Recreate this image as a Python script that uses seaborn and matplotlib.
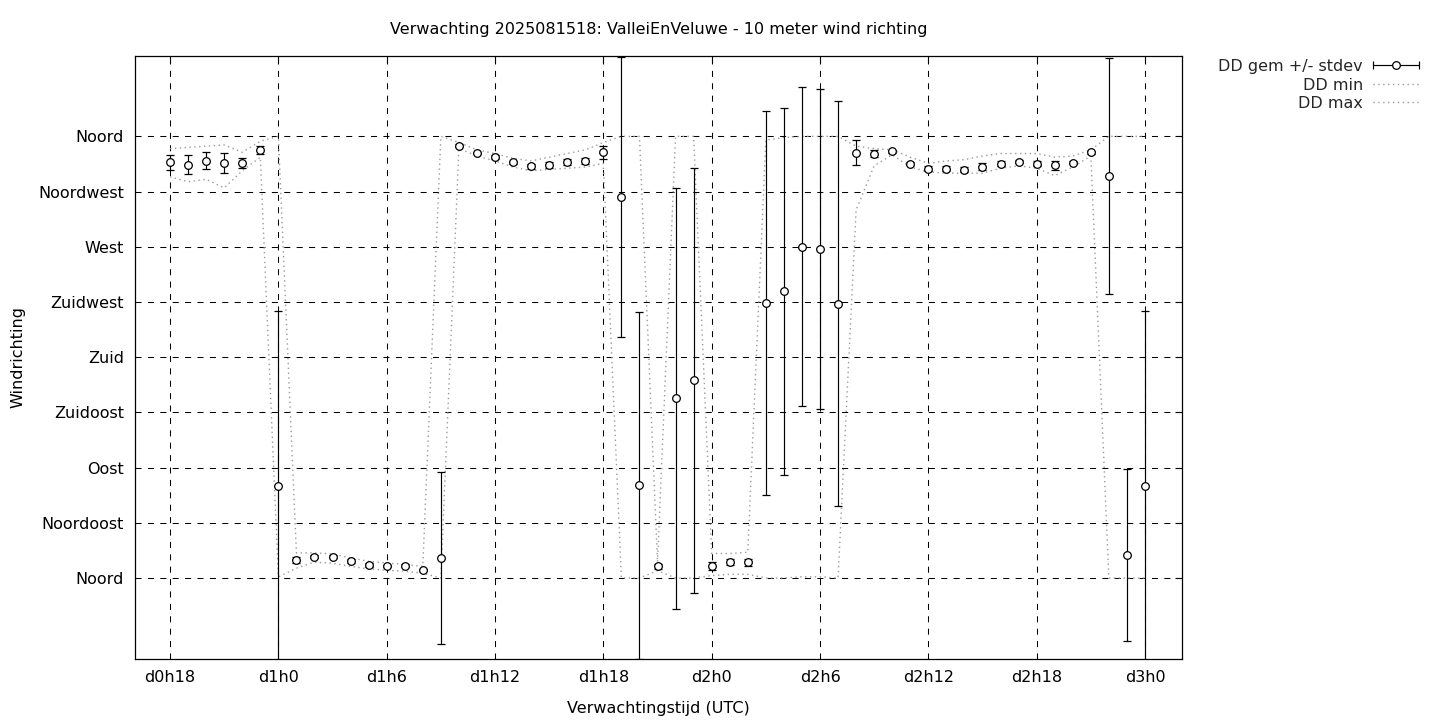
import matplotlib
matplotlib.use("Agg")
import numpy as np
import pandas as pd
import matplotlib.pyplot as plt
import seaborn as sns
from matplotlib.lines import Line2D
from matplotlib.legend_handler import HandlerLine2D, HandlerTuple

# -----------------------------------------------------------------------------
# Data
# -----------------------------------------------------------------------------

hours = [18, 19, 20, 21, 22, 23, 24, 25, 26, 27, 28, 29, 30, 31, 32, 33, 34, 35,
         36, 37, 38, 39, 40, 41, 42, 43, 44, 45, 46, 47, 48, 49, 50, 51, 52, 53,
         54, 55, 56, 57, 58, 59, 60, 61, 62, 63, 64, 65, 66, 67, 68, 69, 70, 71, 72]

dd_gem = [338.8, 337.0, 340.2, 338.3, 338.3, 349.0, 75.0, 14.7, 17.5, 17.5, 13.9,
          10.6, 9.8, 10.1, 6.5, 16.6, 352.5, 346.3, 343.1, 338.8, 335.6, 337.0,
          339.1, 340.2, 346.9, 310.5, 75.7, 9.7, 146.6, 161.1, 9.7, 12.9, 12.9,
          224.0, 233.6, 270.1, 268.1, 223.7, 346.8, 345.8, 347.7, 337.8, 333.7,
          333.7, 332.9, 335.4, 337.8, 339.4, 337.8, 336.4, 338.6, 346.9, 327.5,
          19.0, 75.0]

dd_stdev = [6.2, 7.5, 6.7, 8.3, 4.0, 3.3, 143.0, 2.5, 1.0, 1.5, 1.5, 2.0, 1.2,
            1.0, 1.0, 70.2, 1.0, 1.0, 1.5, 1.5, 2.0, 2.5, 2.5, 2.5, 5.4, 114.0,
            141.5, 2.0, 171.6, 173.5, 3.0, 2.5, 3.0, 156.6, 149.9, 130.2, 130.2,
            165.2, 10.0, 2.9, 1.0, 1.0, 2.0, 2.0, 2.0, 3.2, 2.0, 1.5, 2.0, 3.8,
            1.0, 1.5, 96.0, 70.0, 143.0]

dd_min = [327, 323, 325, 318, 332, 343, 1, 8, 13, 12, 9.5, 7.5, 6.3, 5.5, 4, 0,
          350, 344, 340, 335, 332, 333, 334, 335, 338, 0, 0, 6, 0, 0, 2, 3, 3, 0,
          0, 1, 1, 0, 300, 336, 345, 335, 331, 330, 330, 330, 334, 336, 334, 328,
          335, 344, 0, 0, 0]

dd_max = [350, 351, 352, 353, 347, 356, 360, 20.5, 20.5, 19.6, 16.4, 13.6, 12.3,
          11, 9.5, 360, 355, 349, 346, 342, 340, 343, 346, 349, 355, 360, 360, 13,
          360, 360, 20, 20, 21, 357, 359, 360, 360, 360, 352, 350, 349, 343, 338,
          340, 341, 344, 346, 346, 346, 343, 344, 349, 360, 360, 360]

y_ticks = [0, 45, 90, 135, 180, 225, 270, 315, 360]
y_labels = ["Noord", "Noordoost", "Oost", "Zuidoost", "Zuid", "Zuidwest",
            "West", "Noordwest", "Noord"]
x_ticks = [18, 24, 30, 36, 42, 48, 54, 60, 66, 72]
x_labels = ["d0h18", "d1h0", "d1h6", "d1h12", "d1h18", "d2h0", "d2h6",
            "d2h12", "d2h18", "d3h0"]

title = "Verwachting 2025081518: ValleiEnVeluwe - 10 meter wind richting"

# -----------------------------------------------------------------------------
# Setup
# -----------------------------------------------------------------------------

sns.set_theme(style="white")
plt.rcParams["font.family"] = ["DejaVu Sans"]
FS = 11.5
GREY = "#9a9a9a"
DOTS = (0, (1, 2.5))

df = pd.DataFrame({"uur": hours, "gem": dd_gem, "sd": dd_stdev,
                   "min": dd_min, "max": dd_max})

fig = plt.figure(figsize=(14.4, 7.2), dpi=100)
ax = fig.add_axes([135 / 1440, 1 - 659 / 720, 1047 / 1440, 603 / 720])

# min / max lines
sns.lineplot(data=df, x="uur", y="min", ax=ax, color=GREY, lw=1.0,
             linestyle=DOTS, estimator=None, sort=False, zorder=2)
sns.lineplot(data=df, x="uur", y="max", ax=ax, color=GREY, lw=1.0,
             linestyle=DOTS, estimator=None, sort=False, zorder=2)

# mean +/- stdev
ax.errorbar(df["uur"], df["gem"], yerr=df["sd"], fmt="o", color="black",
            mfc="white", mec="black", ms=5.5, mew=0.9, elinewidth=0.85,
            capsize=3, capthick=0.85, zorder=3)

# -----------------------------------------------------------------------------
# Axes styling (gnuplot look)
# -----------------------------------------------------------------------------

ax.set_xlim(16.06, 74.05)
ax.set_ylim(-66, 425.5)
ax.set_xticks(x_ticks)
ax.set_xticklabels(x_labels, fontsize=FS)
ax.set_yticks(y_ticks)
ax.set_yticklabels(y_labels, fontsize=FS)
ax.tick_params(direction="in", length=5, width=0.8, color="black",
               top=True, right=True, pad=8, labelcolor="black")
ax.grid(True, color="black", lw=0.75, linestyle=(0, (5.8, 6.1)), zorder=1)
ax.set_axisbelow(True)
for sp in ax.spines.values():
    sp.set_color("black")
    sp.set_linewidth(0.9)

ax.set_xlabel("Verwachtingstijd (UTC)", fontsize=FS, color="black")
ax.set_ylabel("Windrichting", fontsize=FS, color="black")
ax.xaxis.set_label_coords(0.5, -0.069)
ax.yaxis.set_label_coords(-0.105, 0.5)
fig.text(658.5 / 1440, 1 - 34 / 720, title, ha="center", va="baseline",
         fontsize=FS, color="black")

# -----------------------------------------------------------------------------
# Legend (outside, right aligned like gnuplot)
# -----------------------------------------------------------------------------

h_line = Line2D([], [], color="black", lw=0.85, marker="o", mfc="white",
                mec="black", ms=5.5, mew=0.9)
h_caps = Line2D([], [], color="black", lw=0, marker="|", ms=6, mew=0.85)
h_min = Line2D([], [], color=GREY, lw=1.0, linestyle=DOTS)
h_max = Line2D([], [], color=GREY, lw=1.0, linestyle=DOTS)

fig.legend([(h_line, h_caps), h_min, h_max],
           ["DD gem +/- stdev", "DD min", "DD max"],
           handler_map={h_caps: HandlerLine2D(numpoints=2, marker_pad=0),
                        h_line: HandlerLine2D(numpoints=1),
                        tuple: HandlerTuple(ndivide=1)},
           loc="upper right", bbox_to_anchor=(1419 / 1440, 1 - 59 / 720),
           frameon=False, markerfirst=False, fontsize=FS, borderpad=0,
           borderaxespad=0, handlelength=2.9, handletextpad=0.62,
           labelspacing=0.22)

fig.savefig("out.png", dpi=100)
